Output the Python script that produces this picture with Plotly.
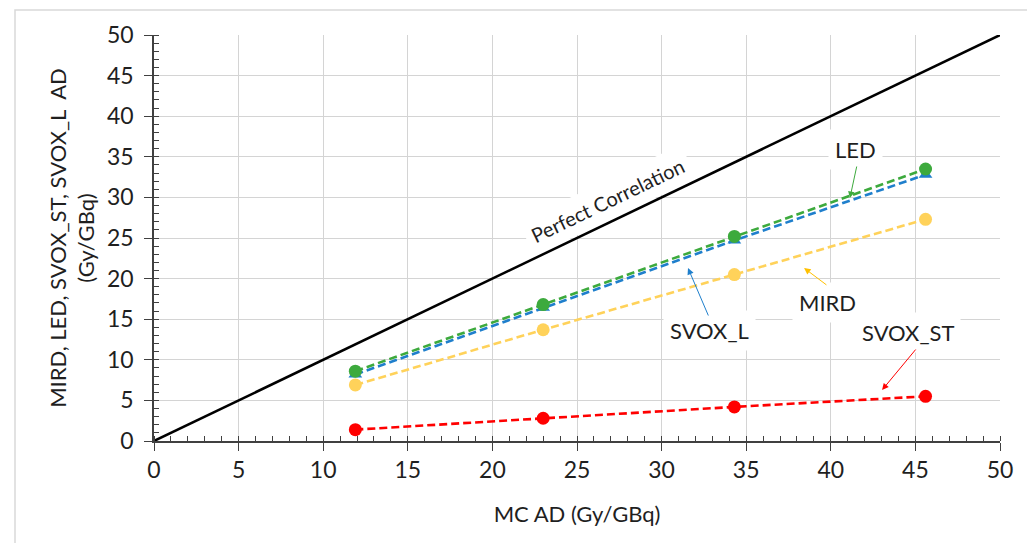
import plotly.graph_objects as go

mc_ad = [11.9, 23.0, 34.3, 45.6]
led = [8.6, 16.8, 25.2, 33.5]
svox_l = [8.2, 16.4, 24.7, 32.8]
mird = [6.9, 13.7, 20.5, 27.3]
svox_st = [1.4, 2.8, 4.2, 5.5]
perfect_x = [0, 50]
perfect_y = [0, 50]

FONT = "Lato"
TXT = "#1F1F1F"
DASH = "8px,4px"
LW = 2.6

fig = go.Figure()
fig.add_trace(go.Scatter(x=perfect_x, y=perfect_y, mode="lines",
                         line=dict(color="black", width=2.5), name="Perfect Correlation"))
fig.add_trace(go.Scatter(x=mc_ad, y=svox_st, mode="lines+markers", name="SVOX_ST",
                         line=dict(color="#FF0000", width=LW, dash=DASH),
                         marker=dict(color="#FF0000", size=13, symbol="circle")))
fig.add_trace(go.Scatter(x=mc_ad, y=mird, mode="lines+markers", name="MIRD",
                         line=dict(color="#FFD25A", width=LW, dash=DASH),
                         marker=dict(color="#FFD25A", size=13, symbol="circle")))
fig.add_trace(go.Scatter(x=mc_ad, y=svox_l, mode="lines+markers", name="SVOX_L",
                         line=dict(color="#1F7FCC", width=LW, dash=DASH),
                         marker=dict(color="#1F7FCC", size=12, symbol="triangle-up")))
fig.add_trace(go.Scatter(x=mc_ad, y=led, mode="lines+markers", name="LED",
                         line=dict(color="#3DAA3D", width=LW, dash=DASH),
                         marker=dict(color="#3DAA3D", size=13, symbol="circle")))

axis_common = dict(
    range=[0, 50], dtick=5, tick0=0,
    showgrid=True, gridcolor="#D4D4D4", gridwidth=1,
    showline=True, linecolor="#404040", linewidth=1.5,
    ticks="outside", ticklen=8, tickcolor="#404040", tickwidth=1.2,
    minor=dict(ticks="inside", ticklen=5, dtick=1, tickcolor="#404040",
               tickwidth=1, showgrid=False),
    tickfont=dict(family=FONT, size=23, color=TXT),
    zeroline=False, fixedrange=True, automargin=False,
)

fig.update_xaxes(**axis_common,
                 title=dict(text="MC AD (Gy/GBq)", font=dict(family=FONT, size=22, color=TXT),
                            standoff=24))
fig.update_yaxes(**axis_common, ticklabelstandoff=6,
                 title=dict(text="MIRD, LED, SVOX_ST, SVOX_L  AD<br>(Gy/GBq)",
                            font=dict(family=FONT, size=22, color=TXT), standoff=6))

labels = [
    ("Perfect Correlation", 26.83, 29.7, -25.6, 20),
    ("LED", 41.43, 35.96, 0, 22),
    ("SVOX_L", 32.86, 13.67, 0, 22),
    ("MIRD", 39.83, 17.0, 0, 22),
    ("SVOX_ST", 44.56, 13.42, 0, 22),
]
for text, x, y, ang, fs in labels:
    fig.add_annotation(x=x, y=y, text=text, showarrow=False, textangle=ang,
                       font=dict(family=FONT, size=fs, color=TXT),
                       bgcolor="white", borderpad=6)

arrows = [
    (41.55, 33.99, 41.13, 29.93, "#3DAA3D"),
    (32.80, 15.27, 31.56, 21.30, "#1F7FCC"),
    (39.83, 19.09, 38.42, 21.30, "#FFC000"),
    (45.09, 11.45, 43.03, 6.28, "#FF0000"),
]
for ax, ay, x, y, c in arrows:
    fig.add_annotation(x=x, y=y, ax=ax, ay=ay, xref="x", yref="y", axref="x", ayref="y",
                       text="", showarrow=True, arrowhead=2, arrowsize=1.3,
                       arrowwidth=1, arrowcolor=c)

# outer chart border
fig.add_shape(type="rect", xref="paper", yref="paper",
              x0=-0.1643, x1=1.0366, y0=-0.26, y1=1.0616,
              line=dict(color="#D9D9D9", width=1.5), fillcolor="rgba(0,0,0,0)", layer="below")

fig.update_layout(
    width=1027, height=535,
    margin=dict(l=146, r=35, t=27, b=102),
    paper_bgcolor="white", plot_bgcolor="white",
    showlegend=False,
    font=dict(family=FONT, color=TXT),
)

fig.write_html("out.html")
